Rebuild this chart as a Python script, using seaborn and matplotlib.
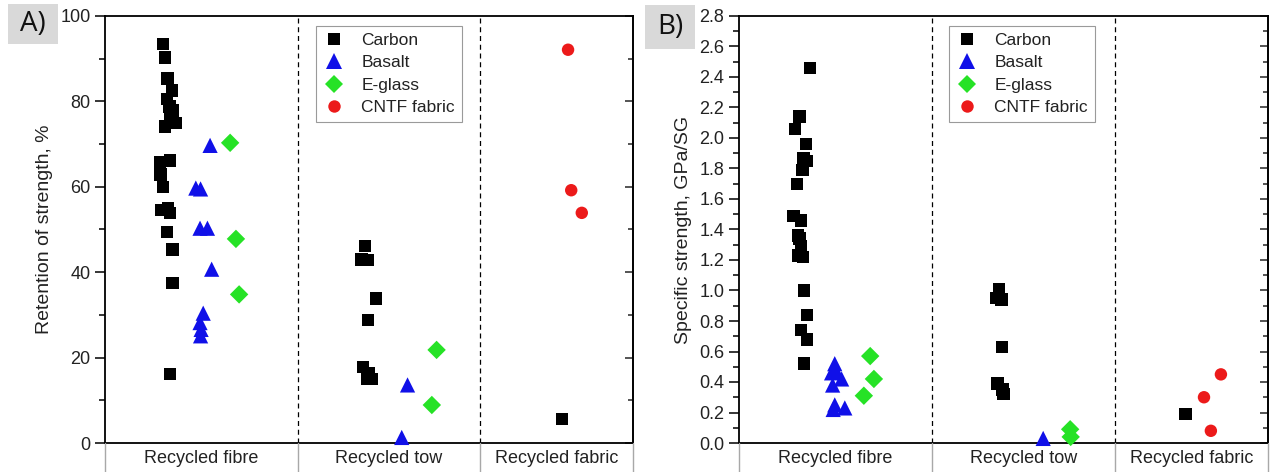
"""
Retention of strength / specific strength of recycled fibres, tows and fabrics
"""
import numpy as np
import pandas as pd
import matplotlib.pyplot as plt
import matplotlib.ticker as mticker
from matplotlib.patches import Rectangle
import seaborn as sns

# ─ Data ─────────────────────────────────────────────────────────────────── #
MATERIALS = ["Carbon", "Basalt", "E-glass", "CNTF fabric"]
GROUPS = ["Recycled fibre", "Recycled tow", "Recycled fabric"]
GROUP_EDGES = [0, 3.65, 7.1, 10]

# Panel A: retention of strength, %  (x = position inside the group band)
A_CARBON_FIBRE   = [93.4, 90.3, 85.4, 82.6, 80.5, 78.8, 77.9, 76.3, 74.9, 74.1, 66.2,
                    65.8, 62.9, 60.0, 54.9, 54.5, 53.9, 49.4, 45.3, 37.5, 16.1]
A_CARBON_FIBRE_X = [1.10, 1.14, 1.18, 1.27, 1.17, 1.22, 1.29, 1.24, 1.34, 1.14, 1.23,
                    1.04, 1.05, 1.10, 1.19, 1.07, 1.23, 1.17, 1.28, 1.28, 1.23]
A_BASALT_FIBRE   = [69.7, 59.7, 59.5, 50.3, 50.3, 40.7, 30.4, 28.2, 26.6, 25.1]
A_BASALT_FIBRE_X = [1.99, 1.72, 1.81, 1.80, 1.94, 2.02, 1.86, 1.80, 1.82, 1.81]
A_EGLASS_FIBRE   = [70.3, 47.8, 34.8]
A_EGLASS_FIBRE_X = [2.37, 2.48, 2.54]
A_CARBON_TOW     = [46.1, 43.0, 42.8, 33.8, 28.8, 17.8, 16.4, 15.0, 15.0]
A_CARBON_TOW_X   = [4.92, 4.86, 4.97, 5.13, 4.98, 4.89, 4.99, 4.96, 5.05]
A_BASALT_TOW     = [13.6, 1.3]
A_BASALT_TOW_X   = [5.73, 5.62]
A_EGLASS_TOW     = [21.8, 8.9]
A_EGLASS_TOW_X   = [6.28, 6.19]
A_CARBON_FABRIC  = [5.6]
A_CARBON_FABRIC_X = [8.66]
A_CNTF_FABRIC    = [92.1, 59.2, 53.9]
A_CNTF_FABRIC_X  = [8.77, 8.83, 9.03]

# Panel B: specific strength, GPa/SG
B_CARBON_FIBRE   = [2.46, 2.14, 2.06, 1.96, 1.87, 1.85, 1.79, 1.70, 1.49, 1.46,
                    1.36, 1.34, 1.29, 1.23, 1.22, 1.00, 0.84, 0.74, 0.68, 0.52]
B_CARBON_FIBRE_X = [1.34, 1.14, 1.06, 1.27, 1.22, 1.29, 1.20, 1.10, 1.03, 1.17,
                    1.11, 1.14, 1.17, 1.12, 1.21, 1.23, 1.28, 1.17, 1.28, 1.23]
B_BASALT_FIBRE   = [0.52, 0.47, 0.46, 0.42, 0.38, 0.25, 0.23, 0.22]
B_BASALT_FIBRE_X = [1.81, 1.84, 1.75, 1.94, 1.77, 1.81, 2.00, 1.78]
B_EGLASS_FIBRE   = [0.57, 0.42, 0.31]
B_EGLASS_FIBRE_X = [2.48, 2.55, 2.36]
B_CARBON_TOW     = [1.01, 0.95, 0.94, 0.63, 0.39, 0.35, 0.32]
B_CARBON_TOW_X   = [4.91, 4.86, 4.96, 4.97, 4.89, 4.98, 5.00]
B_BASALT_TOW     = [0.03]
B_BASALT_TOW_X   = [5.75]
B_EGLASS_TOW     = [0.09, 0.04]
B_EGLASS_TOW_X   = [6.26, 6.27]
B_CARBON_FABRIC  = [0.19]
B_CARBON_FABRIC_X = [8.44]
B_CNTF_FABRIC    = [0.45, 0.30, 0.08]
B_CNTF_FABRIC_X  = [9.11, 8.79, 8.92]

# ─ Style ────────────────────────────────────────────────────────────────── #
COLORS  = {"Carbon": "#000000", "Basalt": "#1010E8",
           "E-glass": "#26E226", "CNTF fabric": "#EC1A1A"}
MARKERS = {"Carbon": "s", "Basalt": "^", "E-glass": "D", "CNTF fabric": "o"}
SIZES   = {"Carbon": 80, "Basalt": 120, "E-glass": 88, "CNTF fabric": 80}
TEXT    = "#222222"

sns.set_theme(style="ticks")
plt.rcParams["font.family"] = ["Liberation Sans", "DejaVu Sans"]

W, H = 1277, 472


def build_frame(series):
    rows = []
    for material, xs, ys in series:
        for x, y in zip(xs, ys):
            rows.append({"material": material, "x": x, "y": y})
    return pd.DataFrame(rows)


def draw_panel(fig, rect, df, ymax, major, minor, fmt, ylabel, legend_x):
    ax = fig.add_axes(rect)
    sns.scatterplot(data=df, x="x", y="y", hue="material", style="material",
                    size="material", hue_order=MATERIALS, style_order=MATERIALS,
                    size_order=MATERIALS, palette=COLORS, markers=MARKERS,
                    sizes=SIZES, linewidth=0, clip_on=False, zorder=3, ax=ax)
    ax.set_xlim(GROUP_EDGES[0], GROUP_EDGES[-1])
    ax.set_ylim(0, ymax)
    for e in GROUP_EDGES[1:-1]:
        ax.axvline(e, color="black", lw=0.9, ls=(0, (4, 3)), zorder=1)

    ax.set_xticks([])
    ax.set_xlabel("")
    ax.set_ylabel(ylabel, fontsize=14, color=TEXT, labelpad=5)
    ax.yaxis.set_major_locator(mticker.MultipleLocator(major))
    ax.yaxis.set_minor_locator(mticker.MultipleLocator(minor))
    ax.yaxis.set_major_formatter(mticker.FormatStrFormatter(fmt))
    ax.tick_params(axis="y", which="major", direction="out", length=7, width=1.1,
                   labelsize=13, labelcolor=TEXT, color="black")
    ax.tick_params(axis="y", which="minor", direction="out", length=4, width=1.1,
                   left=True, color="black")
    for sp in ax.spines.values():
        sp.set_visible(True)
        sp.set_color("black")
        sp.set_linewidth(1.3)

    # mirrored inward ticks on the right spine
    sec = ax.secondary_yaxis("right")
    sec.yaxis.set_major_locator(mticker.MultipleLocator(major))
    sec.yaxis.set_minor_locator(mticker.MultipleLocator(minor))
    sec.tick_params(which="major", direction="in", length=6, width=1.1, labelright=False)
    sec.tick_params(which="minor", direction="in", length=3.5, width=1.1)
    sec.spines["right"].set_linewidth(1.3)

    sns.move_legend(ax, "upper left", bbox_to_anchor=(legend_x, 0.977), title=None,
                    frameon=True, fancybox=False, framealpha=1, edgecolor="#9a9a9a",
                    fontsize=12.5, labelspacing=0.42, handlelength=1.3,
                    handletextpad=0.9, borderpad=0.4, borderaxespad=0)
    leg = ax.get_legend()
    leg.get_frame().set_linewidth(0.8)
    for t in leg.get_texts():
        t.set_color(TEXT)

    # category row under the axes
    lab = fig.add_axes([rect[0], 0, rect[2], rect[1]])
    lab.set_xlim(GROUP_EDGES[0], GROUP_EDGES[-1])
    lab.set_ylim(0, 1)
    lab.axis("off")
    for e in GROUP_EDGES:
        lab.axvline(e, color="#a8a8a8", lw=1.0, clip_on=False)
    for lo, hi, g in zip(GROUP_EDGES[:-1], GROUP_EDGES[1:], GROUPS):
        lab.text((lo + hi) / 2, 0.45, g, ha="center", va="center",
                 fontsize=13, color=TEXT)
    return ax


def panel_tag(fig, box, text, center):
    x, y, w, h = box
    fig.patches.append(Rectangle((x / W, 1 - (y + h) / H), w / W, h / H,
                                 transform=fig.transFigure, fc="#d9d9d9",
                                 ec="none", zorder=0))
    fig.text(center[0] / W, 1 - center[1] / H, text, ha="center", va="center",
             fontsize=20, color="#111111", family=["Open Sans", "DejaVu Sans"])


# ─ Figure ───────────────────────────────────────────────────────────────── #
df_a = build_frame([
    ("Carbon", A_CARBON_FIBRE_X, A_CARBON_FIBRE),
    ("Basalt", A_BASALT_FIBRE_X, A_BASALT_FIBRE),
    ("E-glass", A_EGLASS_FIBRE_X, A_EGLASS_FIBRE),
    ("Carbon", A_CARBON_TOW_X, A_CARBON_TOW),
    ("Basalt", A_BASALT_TOW_X, A_BASALT_TOW),
    ("E-glass", A_EGLASS_TOW_X, A_EGLASS_TOW),
    ("Carbon", A_CARBON_FABRIC_X, A_CARBON_FABRIC),
    ("CNTF fabric", A_CNTF_FABRIC_X, A_CNTF_FABRIC),
])
df_b = build_frame([
    ("Carbon", B_CARBON_FIBRE_X, B_CARBON_FIBRE),
    ("Basalt", B_BASALT_FIBRE_X, B_BASALT_FIBRE),
    ("E-glass", B_EGLASS_FIBRE_X, B_EGLASS_FIBRE),
    ("Carbon", B_CARBON_TOW_X, B_CARBON_TOW),
    ("Basalt", B_BASALT_TOW_X, B_BASALT_TOW),
    ("E-glass", B_EGLASS_TOW_X, B_EGLASS_TOW),
    ("Carbon", B_CARBON_FABRIC_X, B_CARBON_FABRIC),
    ("CNTF fabric", B_CNTF_FABRIC_X, B_CNTF_FABRIC),
])

fig = plt.figure(figsize=(W / 100, H / 100), dpi=100)
fig.patch.set_facecolor("white")

bottom = 29 / H
height = 427 / H
draw_panel(fig, [105 / W, bottom, 528 / W, height], df_a, 100, 20, 10, "%d",
           "Retention of strength, %", 0.40)
draw_panel(fig, [739 / W, bottom, 529 / W, height], df_b, 2.8, 0.2, 0.1, "%.1f",
           "Specific strength, GPa/SG", 0.397)

panel_tag(fig, (8, 4, 50, 40), "A)", (33, 24))
panel_tag(fig, (645, 5, 50, 44), "B)", (670, 27))

fig.savefig("out.png", dpi=100, facecolor="white")
plt.close(fig)
